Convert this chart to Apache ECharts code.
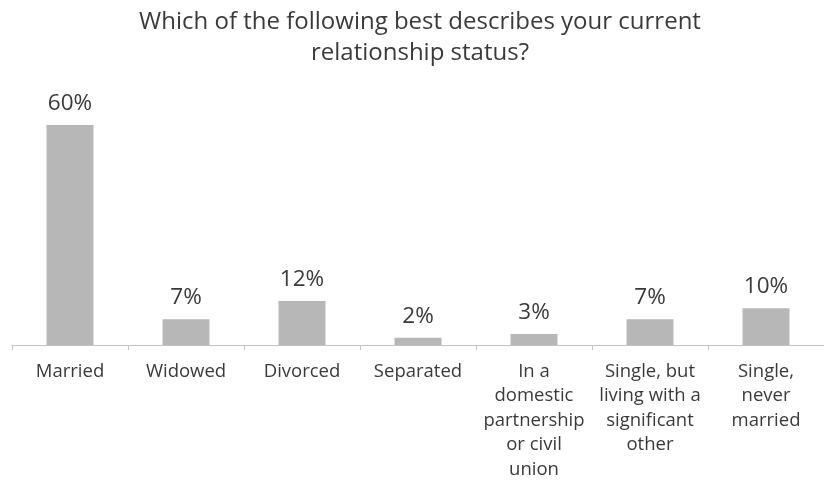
<!DOCTYPE html>
<html>
<head>
<meta charset="utf-8">
<script src="https://cdn.jsdelivr.net/npm/echarts@6/dist/echarts.min.js"></script>
<style>
  html, body { margin: 0; padding: 0; background: #fff; }
  #chart { width: 824px; height: 482px; }
</style>
</head>
<body>
<div id="chart"></div>
<script>
// Relationship status survey results (percent of respondents)
const categories = [
  "Married",
  "Widowed",
  "Divorced",
  "Separated",
  "In a\ndomestic\npartnership\nor civil\nunion",
  "Single, but\nliving with a\nsignificant\nother",
  "Single,\nnever\nmarried"
];
const shares = [60, 7, 12, 2, 3, 7, 10];
const titleText = "Which of the following best describes your current\nrelationship status?";

const fontFamily = "'Open Sans', sans-serif";
const chart = echarts.init(document.getElementById("chart"), null, { renderer: "canvas" });

chart.setOption({
  animation: false,
  title: {
    text: titleText,
    left: 420,
    top: 7,
    padding: 0,
    textAlign: "center",
    textStyle: { fontFamily, fontSize: 24, fontWeight: "normal", color: "#3a3a3a", lineHeight: 31 }
  },
  grid: { left: 12, right: -8, top: 125, bottom: 137, containLabel: false },
  xAxis: {
    type: "category",
    data: categories,
    axisLine: { lineStyle: { color: "#c2c2c2", width: 1.2 } },
    axisTick: { show: true, length: 5, lineStyle: { color: "#c2c2c2" } },
    axisLabel: {
      interval: 0,
      margin: 14,
      fontFamily,
      fontSize: 18.5,
      lineHeight: 24.5,
      color: "#3a3a3a"
    }
  },
  yAxis: {
    type: "value",
    min: 0,
    max: 60,
    show: false
  },
  series: [{
    type: "bar",
    data: shares,
    barWidth: 47,
    itemStyle: { color: "#b7b7b7" },
    label: {
      show: true,
      position: "top",
      distance: 10,
      formatter: "{c}%",
      fontFamily,
      fontSize: 22.5,
      color: "#3a3a3a"
    }
  }]
});
</script>
</body>
</html>
